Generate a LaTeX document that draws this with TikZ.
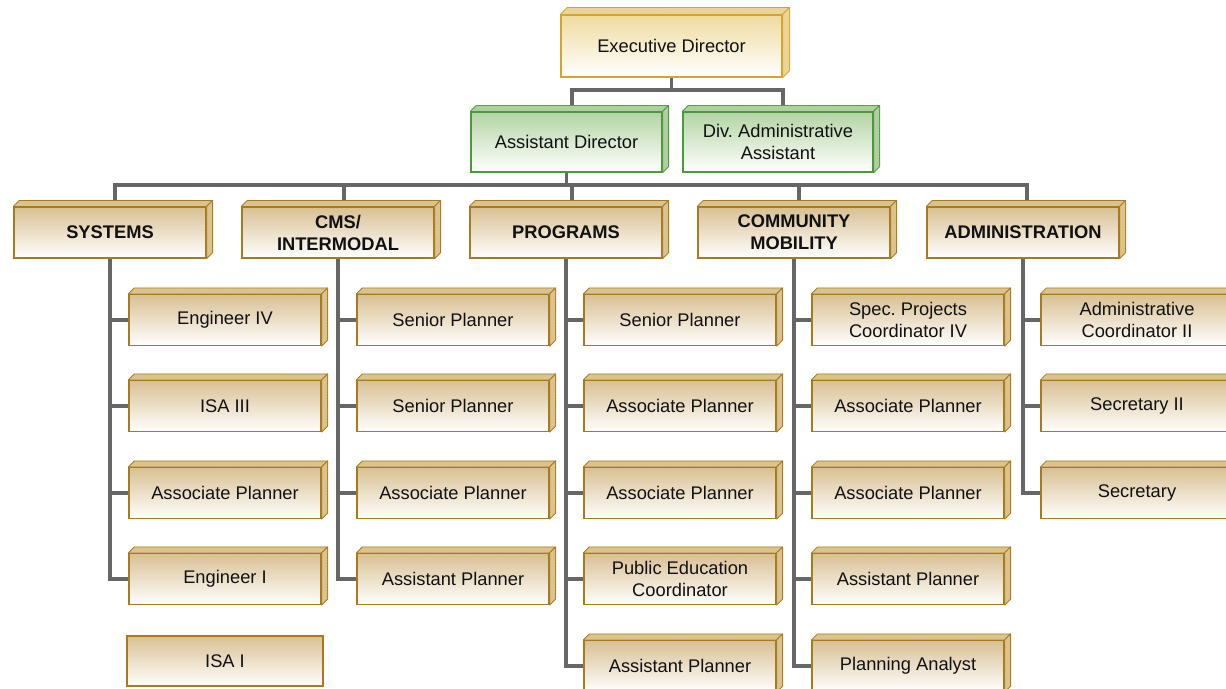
\documentclass[tikz,border=0pt]{standalone}
\usepackage{fontspec}
\setmainfont{Liberation Sans}
\usetikzlibrary{patterns}
\pgfdeclarelayer{bg}
\pgfsetlayers{bg,main}
\definecolor{tanb}{HTML}{A87A1E}
\definecolor{tant}{HTML}{D8C093}
\definecolor{tand}{HTML}{DCC38E}
\definecolor{exb}{HTML}{D4A52A}
\definecolor{ext}{HTML}{EFDBA0}
\definecolor{exd}{HTML}{EBD596}
\definecolor{grb}{HTML}{4A9A3A}
\definecolor{grt}{HTML}{B4D4A4}
\definecolor{grd}{HTML}{B0CFA0}
\definecolor{conncol}{HTML}{666666}
\definecolor{txt}{HTML}{111111}
\newcommand{\boxdepth}[4]{%
  \filldraw[fill=#2, draw=#3, line width=0.8pt, line join=round,
    postaction={pattern=dots, pattern color=#3!45}]
    (#1.north west) -- ++(#4,-#4) -- ([shift={(#4,-#4)}]#1.north east) -- (#1.north east) -- cycle;
  \filldraw[fill=#2, draw=#3, line width=0.8pt, line join=round,
    postaction={pattern=dots, pattern color=#3!45}]
    (#1.north east) -- ++(#4,-#4) -- ([shift={(#4,-#4)}]#1.south east) -- (#1.south east) -- cycle;
}
\begin{document}
\begin{tikzpicture}[x=1pt,y=-1pt,
  every node/.style={text=txt, font=\fontsize{18.3}{22}\selectfont},
  tanbox/.style={draw=tanb, line width=1.2pt, top color=tant, bottom color=white,
    minimum width=192pt, minimum height=51pt, inner sep=0pt, align=center},
  headbox/.style={tanbox, font=\fontsize{18.3}{22}\selectfont\bfseries},
  greenbox/.style={tanbox, draw=grb, top color=grt, minimum height=60pt},
  execbox/.style={tanbox, draw=exb, top color=ext, minimum width=221pt, minimum height=62pt},
  conn/.style={draw=conncol, line width=3.5pt}
]
\useasboundingbox (0,0) rectangle (1226,688);
\clip (0,0) rectangle (1226,688);

% ---------- nodes
\path
  node[execbox] (exec) at (671.5,46) {Executive Director}
  node[greenbox, minimum width=191pt] (ad) at (566.5,142) {Assistant Director}
  node[greenbox, minimum width=190pt] (daa) at (778,142) {Div.\ Administrative\\Assistant}
  node[headbox] (sys) at (110,232.5) {SYSTEMS}
  node[headbox] (cms) at (338,232.5) {CMS/\\INTERMODAL}
  node[headbox] (prog) at (566,232.5) {PROGRAMS}
  node[headbox] (com) at (794,232.5) {COMMUNITY\\MOBILITY}
  node[headbox] (adm) at (1023,232.5) {ADMINISTRATION};

\path
  node[tanbox] (s1) at (225,320) {Engineer IV}
  node[tanbox] (s2) at (225,406) {ISA III}
  node[tanbox] (s3) at (225,493) {Associate Planner}
  node[tanbox] (s4) at (225,579) {Engineer I}
  node[tanbox, minimum width=196pt, minimum height=50pt] (s5) at (225,661) {ISA I}
  node[tanbox] (c1) at (453,320) {Senior Planner}
  node[tanbox] (c2) at (453,406) {Senior Planner}
  node[tanbox] (c3) at (453,493) {Associate Planner}
  node[tanbox] (c4) at (453,579) {Assistant Planner}
  node[tanbox] (p1) at (680,320) {Senior Planner}
  node[tanbox] (p2) at (680,406) {Associate Planner}
  node[tanbox] (p3) at (680,493) {Associate Planner}
  node[tanbox] (p4) at (680,579) {Public Education\\Coordinator}
  node[tanbox] (p5) at (680,666) {Assistant Planner}
  node[tanbox] (m1) at (908,320) {Spec.\ Projects\\Coordinator IV}
  node[tanbox] (m2) at (908,406) {Associate Planner}
  node[tanbox] (m3) at (908,493) {Associate Planner}
  node[tanbox] (m4) at (908,579) {Assistant Planner}
  node[tanbox] (m5) at (908,666) {Planning Analyst}
  node[tanbox] (a1) at (1137,320) {Administrative\\Coordinator II}
  node[tanbox] (a2) at (1137,406) {Secretary II}
  node[tanbox] (a3) at (1137,493) {Secretary};

% ---------- connectors (behind boxes)
\begin{pgfonlayer}{bg}
\coordinate (b1) at (671.5,90);
\coordinate (b2) at (566.5,185);
\draw[conn] (exec.south) -- (b1);
\draw[conn] ([xshift=5.5pt]ad.north) |- (b1) -| ([xshift=5pt]daa.north);
\draw[conn] (ad.south) -- (b2);
\draw[conn] ([xshift=5pt]sys.north) |- (b2) -| ([xshift=4pt]adm.north);
\draw[conn] ([xshift=6pt]cms.north) -- ([xshift=6pt]cms.north |- b2);
\draw[conn] ([xshift=6pt]prog.north) -- ([xshift=6pt]prog.north |- b2);
\draw[conn] ([xshift=5pt]com.north) -- ([xshift=5pt]com.north |- b2);
\foreach \c in {s1,s2,s3,s4} \draw[conn] (sys.south) |- (\c.west);
\foreach \c in {c1,c2,c3,c4} \draw[conn] (cms.south) |- (\c.west);
\foreach \c in {p1,p2,p3,p4,p5} \draw[conn] (prog.south) |- (\c.west);
\foreach \c in {m1,m2,m3,m4,m5} \draw[conn] (com.south) |- (\c.west);
\foreach \c in {a1,a2,a3} \draw[conn] (adm.south) |- (\c.west);
\end{pgfonlayer}

% ---------- 3D depth faces
\boxdepth{exec}{exd}{exb}{7}
\boxdepth{ad}{grd}{grb}{6}
\boxdepth{daa}{grd}{grb}{6}
\foreach \n in {sys,cms,prog,com,adm,s1,s2,s3,s4,c1,c2,c3,c4,p1,p2,p3,p4,p5,m1,m2,m3,m4,m5,a1,a2,a3}
  {\boxdepth{\n}{tand}{tanb}{6}}
\end{tikzpicture}
\end{document}
